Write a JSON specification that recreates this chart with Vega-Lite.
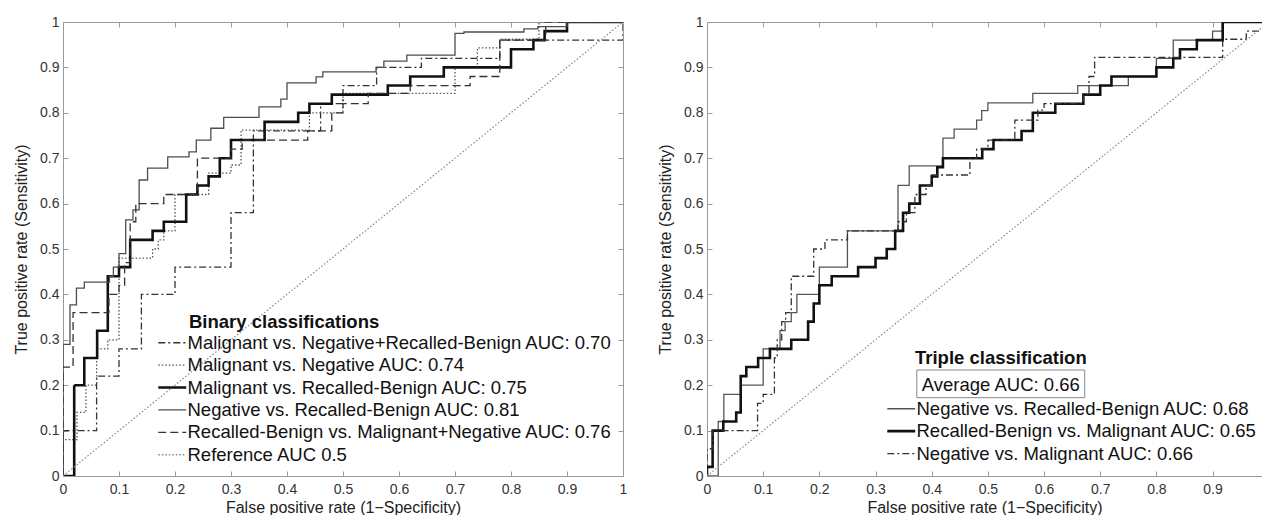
{
  "$schema": "https://vega.github.io/schema/vega-lite/v6.json",
  "padding": {"left": 13, "top": 15, "right": 0, "bottom": 0},
  "spacing": 30,
  "background": "white",
  "resolve": {"scale": {"color": "independent", "strokeDash": "independent"}, "legend": {"color": "independent", "strokeDash": "independent"}},
  "datasets": {
    "binary": [
      {"pair": "Malignant vs. Negative+Recalled-Benign AUC: 0.70", "x": [0,0,0.06,0.10,0.14,0.20,0.30,0.34,0.46,0.50,0.56,0.64,0.78,1], "y": [0,0.10,0.22,0.28,0.40,0.46,0.58,0.76,0.82,0.86,0.90,0.92,0.96,1]},
      {"pair": "Malignant vs. Negative AUC: 0.74", "x": [0,0,0.025,0.041,0.06,0.08,0.10,0.16,0.17,0.18,0.20,0.26,0.30,0.318,0.44,0.50,0.70,0.74,0.78,0.85,1], "y": [0,0.08,0.14,0.20,0.28,0.30,0.48,0.50,0.52,0.54,0.62,0.667,0.685,0.762,0.80,0.843,0.90,0.943,0.962,1,1]},
      {"pair": "Malignant vs. Recalled-Benign AUC: 0.75", "x": [0,0.02,0.038,0.061,0.08,0.10,0.12,0.16,0.18,0.22,0.24,0.26,0.28,0.30,0.36,0.42,0.44,0.48,0.58,0.62,0.68,0.80,0.84,0.86,0.90,1], "y": [0,0.20,0.26,0.32,0.44,0.46,0.52,0.54,0.56,0.62,0.64,0.66,0.70,0.74,0.78,0.80,0.82,0.84,0.86,0.88,0.90,0.94,0.96,0.98,1,1]},
      {"pair": "Negative vs. Recalled-Benign AUC: 0.81", "x": [0,0,0.0125,0.024,0.038,0.083,0.09,0.10,0.112,0.125,0.136,0.151,0.187,0.225,0.238,0.264,0.287,0.35,0.389,0.40,0.452,0.464,0.559,0.573,0.614,0.70,0.716,0.823,0.848,0.90,1], "y": [0,0.29,0.377,0.414,0.427,0.44,0.46,0.49,0.564,0.586,0.652,0.678,0.703,0.714,0.74,0.766,0.79,0.813,0.83,0.866,0.879,0.89,0.90,0.914,0.927,0.975,0.978,0.985,0.99,1,1]},
      {"pair": "Recalled-Benign vs. Malignant+Negative AUC: 0.76", "x": [0,0,0.018,0.082,0.10,0.11,0.12,0.13,0.18,0.24,0.30,0.32,0.437,0.48,0.50,0.545,0.62,0.727,0.78,0.862,1], "y": [0,0.24,0.36,0.40,0.42,0.47,0.56,0.60,0.62,0.70,0.72,0.74,0.76,0.80,0.82,0.843,0.86,0.88,0.96,1,1]},
      {"pair": "Reference AUC 0.5", "x": [0,1], "y": [0,1]}
    ],
    "triple": [
      {"comparison": "Negative vs. Recalled-Benign AUC: 0.68", "x": [0,0.02,0.03,0.06,0.10,0.13,0.139,0.15,0.16,0.20,0.25,0.34,0.36,0.42,0.44,0.48,0.489,0.50,0.58,0.66,0.75,0.80,0.83,0.90,0.918,0.988], "y": [0,0.12,0.18,0.20,0.28,0.32,0.34,0.36,0.40,0.46,0.54,0.64,0.683,0.744,0.764,0.784,0.805,0.822,0.843,0.86,0.88,0.92,0.96,0.98,1,1]},
      {"comparison": "Recalled-Benign vs. Malignant AUC: 0.65", "x": [0,0,0.01,0.029,0.052,0.06,0.07,0.091,0.112,0.15,0.18,0.19,0.20,0.222,0.269,0.30,0.32,0.335,0.349,0.36,0.379,0.40,0.41,0.42,0.49,0.51,0.56,0.58,0.62,0.67,0.70,0.72,0.80,0.83,0.842,0.872,0.918,0.988], "y": [0,0.02,0.10,0.12,0.14,0.22,0.24,0.26,0.28,0.30,0.34,0.38,0.42,0.44,0.46,0.48,0.50,0.54,0.58,0.60,0.64,0.66,0.68,0.70,0.72,0.74,0.76,0.80,0.82,0.84,0.86,0.88,0.90,0.92,0.94,0.96,1,1]},
      {"comparison": "Negative vs. Malignant AUC: 0.66", "x": [0,0,0.01,0.09,0.10,0.12,0.125,0.133,0.14,0.15,0.19,0.21,0.25,0.34,0.355,0.37,0.39,0.40,0.468,0.48,0.50,0.548,0.589,0.60,0.67,0.68,0.69,0.918,0.96,0.988], "y": [0,0.06,0.10,0.16,0.18,0.26,0.30,0.34,0.36,0.44,0.50,0.52,0.54,0.56,0.58,0.62,0.64,0.663,0.70,0.72,0.74,0.784,0.806,0.82,0.84,0.88,0.922,0.962,0.98,0.98]},
      {"comparison": "Reference", "x": [0,1], "y": [0,1]}
    ]
  },
  "hconcat": [
    {
      "width": 560,
      "height": 454,
      "layer": [
        {
          "data": {"name": "binary"},
          "transform": [{"flatten": ["x", "y"]}, {"filter": "datum.pair !== 'Reference AUC 0.5'"}],
          "mark": {"type": "line", "interpolate": "step-after", "clip": true},
          "encoding": {
            "x": {"field": "x", "type": "quantitative", "scale": {"domain": [0, 1], "nice": false, "zero": false},
                  "axis": {"orient": "bottom", "title": "False positive rate (1−Specificity)", "values": [0,0.1,0.2,0.3,0.4,0.5,0.6,0.7,0.8,0.9,1], "format": "~g"}},
            "y": {"field": "y", "type": "quantitative", "scale": {"domain": [0, 1], "nice": false, "zero": false},
                  "axis": {"orient": "left", "title": "True positive rate (Sensitivity)", "values": [0,0.1,0.2,0.3,0.4,0.5,0.6,0.7,0.8,0.9,1], "format": "~g"}},
            "color": {"field": "pair", "type": "nominal",
                      "scale": {"domain": ["Malignant vs. Negative+Recalled-Benign AUC: 0.70", "Malignant vs. Negative AUC: 0.74", "Malignant vs. Recalled-Benign AUC: 0.75", "Negative vs. Recalled-Benign AUC: 0.81", "Recalled-Benign vs. Malignant+Negative AUC: 0.76", "Reference AUC 0.5"],
                                "range": ["#333333", "#555555", "#111111", "#4d4d4d", "#333333", "#888888"]},
                      "legend": {"orient": "none", "legendX": 100, "legendY": 291, "title": "Binary classifications", "titlePadding": 2, "rowPadding": 3.4, "labelOffset": 6,
                                 "encode": {"title": {"update": {"dx": {"value": 26}}}, "symbols": {"update": {"strokeWidth": {"signal": "datum.value === 'Malignant vs. Recalled-Benign AUC: 0.75' ? 2.6 : 1.3"}}}}}},
            "strokeDash": {"field": "pair", "type": "nominal",
                           "scale": {"domain": ["Malignant vs. Negative+Recalled-Benign AUC: 0.70", "Malignant vs. Negative AUC: 0.74", "Malignant vs. Recalled-Benign AUC: 0.75", "Negative vs. Recalled-Benign AUC: 0.81", "Recalled-Benign vs. Malignant+Negative AUC: 0.76", "Reference AUC 0.5"],
                                     "range": [[7,3,2,3], [1.5,2], [1,0], [1,0], [8,4], [1.5,2]]},
                           "legend": {"orient": "none", "legendX": 100, "legendY": 291, "title": "Binary classifications", "titlePadding": 2, "rowPadding": 3.4, "labelOffset": 6,
                                      "encode": {"title": {"update": {"dx": {"value": 26}}}, "symbols": {"update": {"strokeWidth": {"signal": "datum.value === 'Malignant vs. Recalled-Benign AUC: 0.75' ? 2.6 : 1.3"}}}}}},
            "strokeWidth": {"condition": {"test": "datum.pair === 'Malignant vs. Recalled-Benign AUC: 0.75'", "value": 2.6}, "value": 1.3},
            "order": [{"field": "x", "type": "quantitative"}, {"field": "y", "type": "quantitative"}]
          }
        },
        {
          "data": {"name": "binary"},
          "transform": [{"flatten": ["x", "y"]}, {"filter": "datum.pair === 'Reference AUC 0.5'"}],
          "mark": {"type": "line", "clip": true, "strokeWidth": 1.2},
          "encoding": {
            "x": {"field": "x", "type": "quantitative", "axis": {"orient": "top", "labels": false, "title": null, "values": [0,0.1,0.2,0.3,0.4,0.5,0.6,0.7,0.8,0.9,1]}},
            "y": {"field": "y", "type": "quantitative", "axis": {"orient": "right", "labels": false, "title": null, "values": [0,0.1,0.2,0.3,0.4,0.5,0.6,0.7,0.8,0.9,1]}},
            "color": {"field": "pair", "type": "nominal"},
            "strokeDash": {"field": "pair", "type": "nominal"}
          }
        }
      ],
      "resolve": {"axis": {"x": "independent", "y": "independent"}}
    },
    {
      "width": 555,
      "height": 454,
      "layer": [
        {
          "data": {"name": "triple"},
          "transform": [{"flatten": ["x", "y"]}, {"filter": "datum.comparison !== 'Reference'"}],
          "mark": {"type": "line", "interpolate": "step-after", "clip": true},
          "encoding": {
            "x": {"field": "x", "type": "quantitative", "scale": {"domain": [0, 0.988], "nice": false, "zero": false},
                  "axis": {"orient": "bottom", "title": "False positive rate (1−Specificity)", "values": [0,0.1,0.2,0.3,0.4,0.5,0.6,0.7,0.8,0.9], "format": "~g"}},
            "y": {"field": "y", "type": "quantitative", "scale": {"domain": [0, 1], "nice": false, "zero": false},
                  "axis": {"orient": "left", "title": "True positive rate (Sensitivity)", "values": [0,0.1,0.2,0.3,0.4,0.5,0.6,0.7,0.8,0.9,1], "format": "~g"}},
            "color": {"field": "comparison", "type": "nominal",
                      "scale": {"domain": ["Negative vs. Recalled-Benign AUC: 0.68", "Recalled-Benign vs. Malignant AUC: 0.65", "Negative vs. Malignant AUC: 0.66"],
                                "range": ["#555555", "#111111", "#333333"]},
                      "legend": {"orient": "none", "legendX": 185, "legendY": 327, "title": "Triple classification", "titlePadding": 32, "rowPadding": 3.4, "labelOffset": 6,
                                 "encode": {"title": {"update": {"dx": {"value": 23}}}, "symbols": {"update": {"strokeWidth": {"signal": "datum.value === 'Recalled-Benign vs. Malignant AUC: 0.65' ? 2.6 : 1.3"}}}}}},
            "strokeDash": {"field": "comparison", "type": "nominal",
                           "scale": {"domain": ["Negative vs. Recalled-Benign AUC: 0.68", "Recalled-Benign vs. Malignant AUC: 0.65", "Negative vs. Malignant AUC: 0.66"],
                                     "range": [[1,0], [1,0], [7,3,2,3]]},
                           "legend": {"orient": "none", "legendX": 185, "legendY": 327, "title": "Triple classification", "titlePadding": 32, "rowPadding": 3.4, "labelOffset": 6,
                                      "encode": {"title": {"update": {"dx": {"value": 23}}}, "symbols": {"update": {"strokeWidth": {"signal": "datum.value === 'Recalled-Benign vs. Malignant AUC: 0.65' ? 2.6 : 1.3"}}}}}},
            "strokeWidth": {"condition": {"test": "datum.comparison === 'Recalled-Benign vs. Malignant AUC: 0.65'", "value": 2.6}, "value": 1.3},
            "order": [{"field": "x", "type": "quantitative"}, {"field": "y", "type": "quantitative"}]
          }
        },
        {
          "data": {"name": "triple"},
          "transform": [{"flatten": ["x", "y"]}, {"filter": "datum.comparison === 'Reference'"}],
          "mark": {"type": "line", "clip": true, "strokeWidth": 1.2, "color": "#888888", "strokeDash": [1.5, 2]},
          "encoding": {
            "x": {"field": "x", "type": "quantitative", "axis": {"orient": "top", "labels": false, "title": null, "values": [0,0.1,0.2,0.3,0.4,0.5,0.6,0.7,0.8,0.9]}},
            "y": {"field": "y", "type": "quantitative", "axis": null}
          }
        },
        {
          "data": {"values": [{}]},
          "mark": {"type": "rect", "fill": "white", "fillOpacity": 0, "stroke": "#888888", "strokeWidth": 1},
          "encoding": {
            "x": {"datum": 0.3735, "type": "quantitative", "axis": null},
            "x2": {"datum": 0.6724},
            "y": {"datum": 0.2335, "type": "quantitative", "axis": null},
            "y2": {"datum": 0.1725}
          }
        },
        {
          "data": {"values": [{}]},
          "mark": {"type": "text", "align": "left", "baseline": "middle", "fontSize": 18.5, "font": "Liberation Sans", "color": "#111111"},
          "encoding": {
            "x": {"datum": 0.3824, "type": "quantitative", "axis": null},
            "y": {"datum": 0.2004, "type": "quantitative", "axis": null},
            "text": {"value": "Average AUC: 0.66"}
          }
        }
      ],
      "resolve": {"axis": {"x": "independent", "y": "independent"}}
    }
  ],
  "config": {
    "view": {"stroke": null},
    "font": "Liberation Sans",
    "axis": {"grid": false, "domainColor": "#9a9a9a", "tickColor": "#9a9a9a", "tickSize": -5, "labelFont": "Liberation Sans", "labelFontSize": 14, "labelColor": "#333333", "titleFont": "Liberation Sans", "titleFontSize": 16, "titleFontWeight": "normal", "titleColor": "#222222", "labelFlush": false, "labelOverlap": false, "labelBound": false},
    "axisX": {"labelPadding": 11, "titlePadding": 3},
    "axisY": {"labelPadding": 9, "titlePadding": 10},
    "legend": {"titleFont": "Liberation Sans", "labelFont": "Liberation Sans", "titleFontSize": 18.5, "labelFontSize": 18.5, "titleColor": "#111111", "labelColor": "#111111", "titleFontWeight": "bold", "padding": 0, "symbolType": "M-1.55,0H1.55", "symbolSize": 324, "labelLimit": 800, "titleLimit": 800, "symbolStrokeWidth": 1.3}
  }
}
